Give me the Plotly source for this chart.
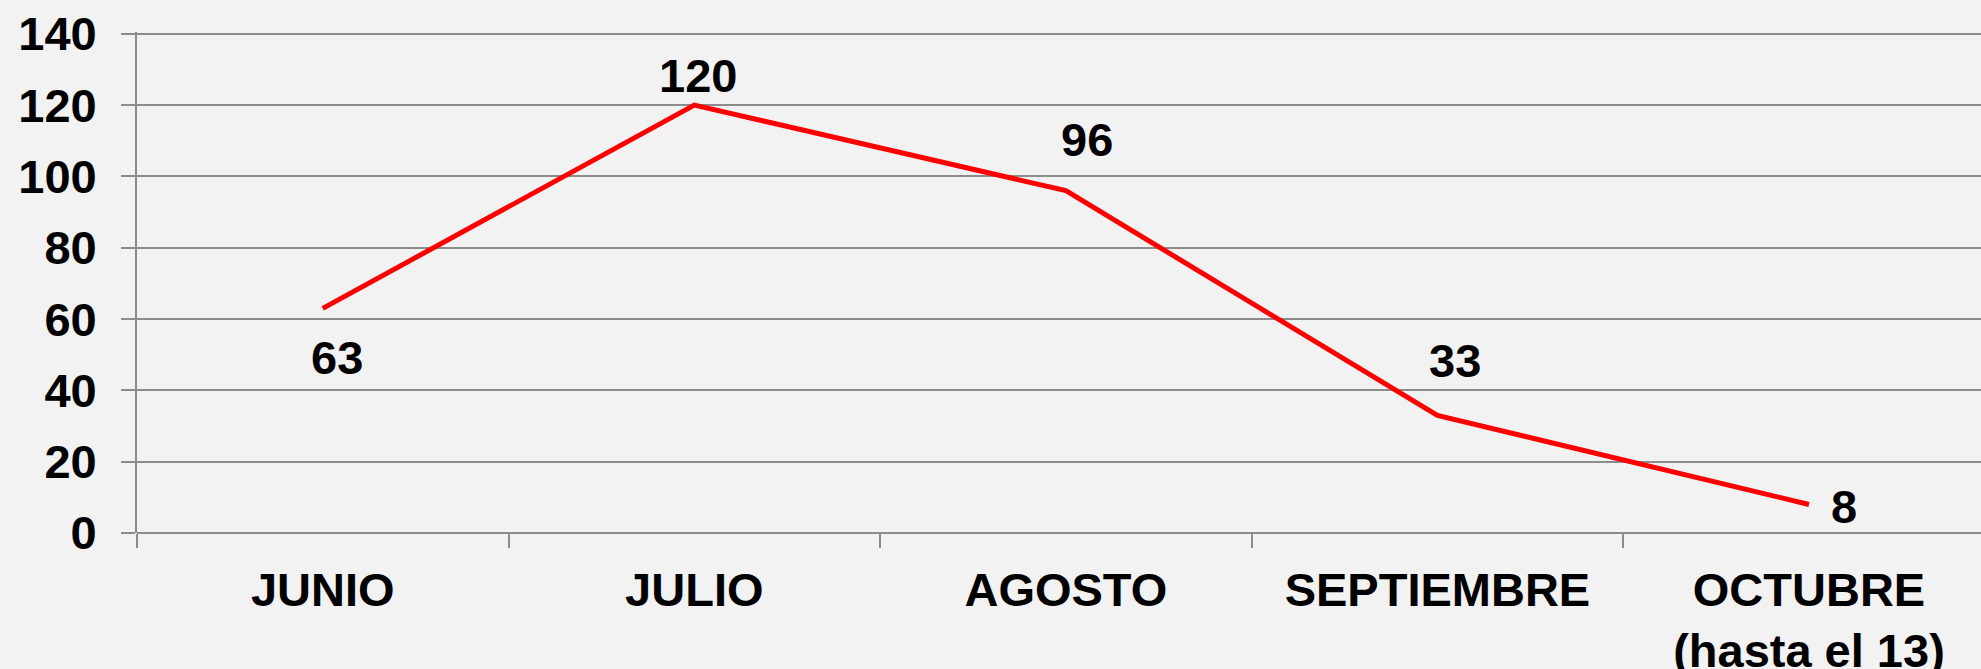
import plotly.graph_objects as go

# datos
meses = ["JUNIO", "JULIO", "AGOSTO", "SEPTIEMBRE", "OCTUBRE<br>(hasta el 13)"]
casos = [63, 120, 96, 33, 8]
y_ticks = [0, 20, 40, 60, 80, 100, 120, 140]

# desplazamiento de las etiquetas (px), como en el original
etiqueta_dx = [14, 4, 21, 18, 35]
etiqueta_dy = [-49, 30, 51, 55, -2]

FUENTE = dict(family="Liberation Sans, Arial, sans-serif", size=47, color="black", weight="bold")
GRIS = "#8c8c8c"

fig = go.Figure()
fig.add_trace(go.Scatter(
    x=meses, y=casos, mode="lines",
    line=dict(color="#ff0000", width=5),
    hoverinfo="x+y", showlegend=False,
))

for m, v, dx, dy in zip(meses, casos, etiqueta_dx, etiqueta_dy):
    fig.add_annotation(x=m, y=v, text=str(v), showarrow=False,
                       xshift=dx, yshift=dy, font=FUENTE)

fig.update_xaxes(
    type="category", range=[-0.5, 4.463], tickson="boundaries",
    ticks="outside", ticklen=14, tickwidth=1.8, tickcolor=GRIS,
    showline=False, showgrid=False, tickfont=FUENTE,
    ticklabelstandoff=25, automargin=False, fixedrange=True,
)
fig.update_yaxes(
    range=[0, 140.5], tickvals=y_ticks,
    ticks="outside", ticklen=14, tickwidth=1.8, tickcolor=GRIS,
    showline=True, linecolor=GRIS, linewidth=1.8,
    showgrid=True, gridcolor=GRIS, gridwidth=1.8,
    zeroline=True, zerolinecolor=GRIS, zerolinewidth=1.8,
    tickfont=FUENTE, ticklabelstandoff=15, automargin=False,
)
fig.update_layout(
    width=1981, height=669,
    margin=dict(l=137, r=0, t=32, b=136),
    paper_bgcolor="#f2f2f2", plot_bgcolor="#f2f2f2",
    font=FUENTE,
)
fig.write_html("out.html", config={"displayModeBar": False},
               post_script="document.body.style.margin='0';document.body.style.overflow='hidden';")
